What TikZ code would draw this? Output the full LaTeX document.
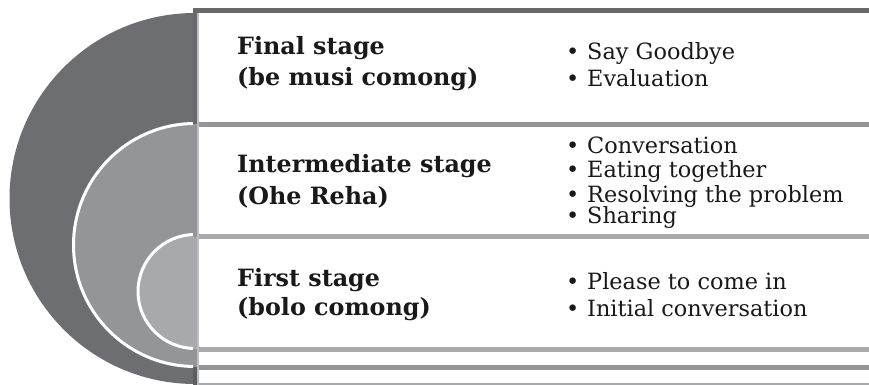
\documentclass[tikz,border=0pt]{standalone}
\usepackage{fontspec}
\setmainfont{DejaVu Serif}
\definecolor{gdark}{HTML}{6D6E71}
\definecolor{gmid}{HTML}{939598}
\definecolor{glight}{HTML}{A7A9AC}
\definecolor{gedge}{HTML}{BDBEC0}
\tikzset{
  stagelabel/.style={anchor=base west, inner sep=0pt, font=\fontsize{23.8}{28}\selectfont\bfseries, text=black!90},
  itemlabel/.style={anchor=base west, inner sep=0pt, font=\fontsize{22.4}{26}\selectfont, text=black!90},
  hbar/.style={line width=5pt},
  ring/.style={draw=white, line width=3pt}
}
\newcommand{\bul}[1]{\makebox[20pt][l]{\hspace*{-1pt}•}#1}
\begin{document}
\begin{tikzpicture}[x=1pt,y=1pt]
\useasboundingbox (0,0) rectangle (869,385);
\fill[white] (0,0) rectangle (869,385);
% big semicircle
\fill[gdark] (195,372) arc[start angle=90,end angle=270,radius=185.5pt] -- cycle;
% middle semicircle
\fill[gmid] (195,261.5) arc[start angle=90,end angle=270,radius=121.5pt] -- cycle;
\draw[ring] (195,261.5) arc[start angle=90,end angle=270,radius=121.5pt];
% inner semicircle
\fill[glight] (195,150.5) arc[start angle=90,end angle=270,radius=57pt] -- cycle;
\draw[ring] (195,150.5) arc[start angle=90,end angle=270,radius=57pt];
% horizontal bars
\draw[hbar,gdark!95!black] (193,374.5) -- (869,374.5);
\draw[hbar,gmid] (193,260.5) -- (869,260.5);
\draw[hbar,glight] (193,148.5) -- (869,148.5);
\draw[hbar,glight] (193,35.5) -- (869,35.5);
\draw[hbar,gmid] (193,17.5) -- (869,17.5);
\draw[line width=1.5pt,glight] (193,1) -- (869,1);
% vertical bar segments
\fill[gdark!95!black] (193,261) rectangle (197,377);
\fill[gmid] (193,148) rectangle (197,261);
\fill[glight] (193,36) rectangle (197,148);
\fill[gmid] (193,18) rectangle (197,36);
\fill[gdark!85!black] (193,0) rectangle (197,18);
\fill[gedge] (197,0) rectangle (198.5,372);
% stage labels
\node[stagelabel] (s3a) at (237,330) {Final stage};
\node[stagelabel] (s3b) at (237,299) {(be musi comong)};
\node[stagelabel] (s2a) at (237,212) {Intermediate stage};
\node[stagelabel] (s2b) at (237,180) {(Ohe Reha)};
\node[stagelabel] (s1a) at (237,98) {First stage};
\node[stagelabel] (s1b) at (237,69) {(bolo comong)};
% items
\node[itemlabel] (i31) at (567,325) {\bul{Say Goodbye}};
\node[itemlabel] (i32) at (567,298) {\bul{Evaluation}};
\node[itemlabel] (i21) at (567,231) {\bul{Conversation}};
\node[itemlabel] (i22) at (567,207) {\bul{Eating together}};
\node[itemlabel] (i23) at (567,182) {\bul{Resolving the problem}};
\node[itemlabel] (i24) at (567,161) {\bul{Sharing}};
\node[itemlabel] (i11) at (567,95) {\bul{Please to come in}};
\node[itemlabel] (i12) at (567,68) {\bul{Initial conversation}};
\end{tikzpicture}
\end{document}
